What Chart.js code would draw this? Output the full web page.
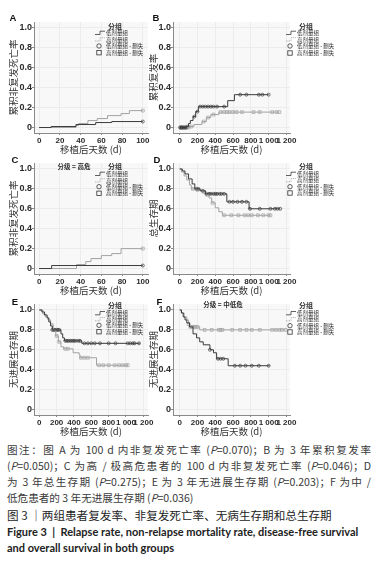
<!DOCTYPE html>
<html>
<head>
<meta charset="utf-8">
<script src="https://cdn.jsdelivr.net/npm/chart.js@4.4.1/dist/chart.umd.min.js"></script>
<style>
body { margin: 0; background: #fff; width: 384px; height: 561px; position: relative; overflow: hidden; font-family: "Noto Sans CJK SC", sans-serif; }
canvas { position: absolute; }
#cap { position: absolute; left: 7px; top: 442px; width: 364px; color: #3a3a3a; font-size: 10.6px; }
.l { height: 16px; line-height: 16px; text-align: justify; text-align-last: justify; }
.n { height: 16px; line-height: 16px; }
.t { height: 17px; line-height: 17px; color: #222; margin-top: 1px; font-size: 11.6px; }
.e { font-family: Lato, sans-serif; font-weight: bold; font-size: 11px; color: #222; height: 16px; line-height: 16px; }
</style>
</head>
<body>
<canvas id="cA" width="165" height="146" style="left:0;top:10px"></canvas>
<canvas id="cB" width="245" height="146" style="left:139px;top:10px"></canvas>
<canvas id="cC" width="165" height="146" style="left:0;top:151px"></canvas>
<canvas id="cD" width="245" height="146" style="left:139px;top:151px"></canvas>
<canvas id="cE" width="165" height="146" style="left:0;top:292px"></canvas>
<canvas id="cF" width="245" height="146" style="left:139px;top:292px"></canvas>
<div id="cap">
<div class="l">图注：图 A 为 100 d 内非复发死亡率 (<i>P</i>=0.070)；B 为 3 年累积复发率</div>
<div class="l">(<i>P</i>=0.050)；C 为高 / 极高危患者的 100 d 内非复发死亡率 (<i>P</i>=0.046)；D</div>
<div class="l">为 3 年总生存期 (<i>P</i>=0.275)；E 为 3 年无进展生存期 (<i>P</i>=0.203)；F 为中 /</div>
<div class="n">低危患者的 3 年无进展生存期 (<i>P</i>=0.036)</div>
<div class="t">图 3 ｜两组患者复发率、非复发死亡率、无病生存期和总生存期</div>
<div class="e">Figure 3 &nbsp;|&nbsp; Relapse rate, non-relapse mortality rate, disease-free survival</div>
<div class="e">and overall survival in both groups</div>
</div>
<script>
// step points [day, value]; censor times in days
// A: 100 d non-relapse mortality
var aLow = [[0, 0], [11.5, 0.01], [35.5, 0.03], [54.5, 0.05], [70, 0.06], [100, 0.06]];
var aHigh = [[0, 0], [35.5, 0.02], [38, 0.04], [47, 0.07], [56, 0.09], [66, 0.12], [79, 0.14], [87, 0.17], [100, 0.17]];
var aLowCens = [100];
var aHighCens = [100];

// B: 3 y cumulative relapse
var bLow = [[0, 0], [80, 0.01], [100, 0.04], [120, 0.07], [150, 0.11], [180, 0.16], [210, 0.21], [540, 0.27], [615, 0.33], [1000, 0.33]];
var bHigh = [[0, 0], [110, 0.01], [160, 0.03], [250, 0.06], [300, 0.1], [350, 0.13], [440, 0.155], [1120, 0.155]];
var bLowCens = [5, 15, 25, 40, 55, 70, 90, 165, 200, 230, 260, 290, 320, 350, 380, 420, 500, 680, 750, 890, 930, 1000];
var bHighCens = [10, 30, 45, 60, 75, 100, 130, 270, 320, 380, 460, 500, 530, 560, 600, 640, 700, 830, 900, 1040, 1090, 1120];

// C: 100 d non-relapse mortality, high risk
var cLow = [[0, 0], [12, 0.03], [100, 0.03]];
var cHigh = [[0, 0], [36, 0.04], [45, 0.07], [50, 0.1], [60, 0.13], [70, 0.15], [79, 0.2], [100, 0.2]];
var cLowCens = [100];
var cHighCens = [100];

// D: 3 y overall survival
var dLow = [[0, 1], [30, 0.98], [60, 0.95], [100, 0.9], [140, 0.85], [170, 0.8], [230, 0.78], [290, 0.75], [530, 0.67], [780, 0.6], [1130, 0.6]];
var dHigh = [[0, 1], [20, 0.97], [50, 0.93], [80, 0.89], [110, 0.84], [130, 0.8], [180, 0.79], [250, 0.77], [300, 0.74], [330, 0.71], [360, 0.66], [400, 0.61], [440, 0.57], [480, 0.535], [1020, 0.535]];
var dLowCens = [190, 210, 260, 300, 330, 350, 380, 400, 420, 450, 470, 500, 560, 600, 650, 700, 750, 790, 900, 1020, 1070, 1100, 1130];
var dHighCens = [150, 200, 270, 310, 370, 500, 580, 660, 730, 770, 810, 880, 940, 1000, 1020];

// E: 3 y progression-free survival
var eLow = [[0, 1], [30, 0.98], [60, 0.95], [90, 0.92], [110, 0.88], [130, 0.84], [150, 0.8], [250, 0.76], [270, 0.72], [290, 0.69], [490, 0.665], [1160, 0.665]];
var eHigh = [[0, 1], [40, 0.96], [70, 0.93], [100, 0.9], [130, 0.86], [160, 0.8], [190, 0.74], [220, 0.68], [250, 0.63], [280, 0.61], [390, 0.57], [460, 0.55], [470, 0.52], [660, 0.445], [1020, 0.445]];
var eLowCens = [150, 165, 180, 200, 215, 230, 300, 320, 340, 360, 380, 400, 420, 450, 470, 520, 560, 600, 640, 700, 800, 880, 1020, 1050, 1080, 1100, 1150];
var eHighCens = [200, 230, 300, 330, 480, 520, 560, 690, 740, 800, 870, 920, 960, 1000, 1020];

// F: 3 y progression-free survival, intermediate/low risk
var fLow = [[0, 1], [20, 0.97], [40, 0.93], [60, 0.9], [80, 0.87], [110, 0.83], [150, 0.76], [190, 0.72], [225, 0.68], [265, 0.65], [340, 0.6], [380, 0.57], [415, 0.51], [545, 0.44], [1010, 0.44]];
var fHigh = [[0, 1], [20, 0.97], [50, 0.93], [80, 0.9], [100, 0.86], [115, 0.83], [225, 0.8], [1190, 0.8]];
var fLowCens = [340, 430, 460, 490, 620, 680, 740, 810, 890, 1000];
var fHighCens = [100, 120, 140, 160, 180, 200, 280, 360, 440, 460, 480, 590, 680, 750, 810, 900, 1040, 1080, 1120, 1150, 1190];

var yTicks = ['0', '0.2', '0.4', '0.6', '0.8', '1.0'];
var legendLabels = ['低剂量组', '高剂量组', '低剂量组 - 删失', '高剂量组 - 删失'];

var DARK = '#3a3a3a', LIGHT = '#a2a2a2', BG = '#f8f8f8', GRID = '#ececec', AXIS = '#8a8a8a', TXT = '#2b2b2b';
var CJK = '"Noto Sans CJK SC"';

function toXY(pts) {
    return pts.map(function (p) { return {x: p[0], y: p[1]}; });
}
// value of the step curve at day t
function valueAt(pts, t) {
    var v = pts[0][1];
    pts.forEach(function (p) { if (p[0] <= t) v = p[1]; });
    return v;
}
function cens(pts, times) {
    return times.map(function (t) { return {x: t, y: valueAt(pts, t)}; });
}

function stepIcon(ctx, x, y, color, dash) {
    ctx.strokeStyle = color;
    ctx.lineWidth = 0.8;
    ctx.setLineDash(dash ? [1.5, 1] : []);
    ctx.beginPath();
    ctx.moveTo(x, y + 1.5);
    ctx.lineTo(x + 5, y + 1.5);
    ctx.lineTo(x + 5, y - 1.8);
    ctx.lineTo(x + 10, y - 1.8);
    ctx.stroke();
    ctx.setLineDash([]);
}

function decor(cfg) {
    return {
        id: 'decor',
        beforeDraw: function (chart) {
            var a = chart.chartArea, ctx = chart.ctx;
            ctx.save();
            ctx.fillStyle = BG;
            ctx.fillRect(a.left, a.top, a.right - a.left, a.bottom - a.top);
            ctx.restore();
        },
        afterDraw: function (chart) {
            var ctx = chart.ctx, ox = cfg.left, oy = cfg.top;
            ctx.save();
            ctx.textBaseline = 'middle';
            // panel letter
            ctx.fillStyle = '#111';
            ctx.font = 'bold 9.5px "Liberation Sans"';
            ctx.textAlign = 'center';
            ctx.fillText(cfg.letter, cfg.letterAt[0] - ox, cfg.letterAt[1] - oy);
            // subtitle
            if (cfg.sub) {
                ctx.fillStyle = TXT;
                ctx.font = 'bold 6.5px ' + CJK;
                ctx.fillText(cfg.sub, cfg.subAt[0] - ox, cfg.subAt[1] - oy);
            }
            // legend
            var sx = cfg.leg[0] - ox;
            ctx.fillStyle = TXT;
            ctx.font = 'bold 7px ' + CJK;
            ctx.fillText('分组', sx + 20, cfg.leg[1] - oy);
            ctx.textAlign = 'left';
            ctx.font = '5.5px ' + CJK;
            var rows = cfg.leg[2];
            stepIcon(ctx, sx, rows[0] - oy, DARK, false);
            stepIcon(ctx, sx, rows[1] - oy, LIGHT, true);
            ctx.strokeStyle = '#333';
            ctx.lineWidth = 0.8;
            ctx.beginPath();
            ctx.arc(sx + 4, rows[2] - oy, 2.2, 0, Math.PI * 2);
            ctx.stroke();
            ctx.strokeRect(sx + 1.8, rows[3] - oy - 2.2, 4.4, 4.4);
            for (var i = 0; i < 4; i++) {
                ctx.fillText(legendLabels[i], sx + 11, rows[i] - oy);
            }
            ctx.restore();
        }
    };
}

function panel(id, cfg) {
    var tickFont = {family: 'Liberation Sans', size: 8, weight: 'bold'};
    new Chart(document.getElementById(id), {
        type: 'scatter',
        data: {
            datasets: [
                {data: toXY(cfg.low), showLine: true, stepped: true, borderColor: DARK, borderWidth: 1, pointRadius: 0},
                {data: toXY(cfg.high), showLine: true, stepped: true, borderColor: LIGHT, borderWidth: 1, pointRadius: 0},
                {data: cens(cfg.low, cfg.lowCens), pointStyle: 'circle', pointRadius: 1.5, borderColor: DARK, borderWidth: 0.7, backgroundColor: 'rgba(0,0,0,0)'},
                {data: cens(cfg.high, cfg.highCens), pointStyle: 'rect', pointRadius: 2, borderColor: LIGHT, borderWidth: 0.7, backgroundColor: 'rgba(0,0,0,0)'}
            ]
        },
        options: {
            responsive: false,
            animation: false,
            events: [],
            layout: {padding: {top: 12, right: cfg.padR, bottom: 0, left: 0}},
            plugins: {legend: {display: false}, tooltip: {enabled: false}},
            scales: {
                x: {
                    type: 'linear',
                    min: cfg.xMin,
                    max: cfg.xMax,
                    afterFit: function (s) { s.height = 23; },
                    border: {color: AXIS, width: 1},
                    grid: {color: GRID, tickColor: AXIS, tickLength: 2},
                    ticks: {
                        stepSize: cfg.xStep, includeBounds: false, autoSkip: false, maxRotation: 0,
                        padding: 1, color: TXT, font: tickFont,
                        callback: function (v) { return v >= 1000 ? Math.floor(v / 1000) + ' ' + String(v % 1000).padStart(3, '0') : String(v); }
                    },
                    title: {display: true, text: '移植后天数 (d)', color: '#333', font: {family: 'Noto Sans CJK SC', size: 9.5}, padding: {top: 0, bottom: 0.5}}
                },
                y: {
                    min: -0.055,
                    max: 1.06,
                    afterFit: function (s) { s.width = 34; },
                    border: {color: AXIS, width: 1},
                    grid: {color: GRID, tickColor: AXIS, tickLength: 2},
                    ticks: {
                        stepSize: 0.2, includeBounds: false, padding: 0, color: TXT,
                        font: {family: 'Liberation Sans', size: 9, weight: 'bold'},
                        callback: function (v) { return yTicks[Math.round(v * 5)]; }
                    },
                    title: {display: true, text: cfg.yTitle, color: '#333', font: {family: 'Noto Sans CJK SC', size: 9.5}, padding: {top: cfg.yPad, bottom: 0}}
                }
            }
        },
        plugins: [decor(cfg)]
    });
}

var leftCol = {left: 0, padR: 17, yPad: 7.5};
var rightCol = {left: 139, padR: 94, yPad: 9};
var d100 = {xMin: -5, xMax: 105, xStep: 20};
var d1200 = {xMin: -75, xMax: 1240, xStep: 200};

panel('cA', Object.assign({}, leftCol, d100, {
    top: 10, low: aLow, high: aHigh, lowCens: aLowCens, highCens: aHighCens,
    yTitle: '累积非复发死亡率', letter: 'A', letterAt: [13, 18.5],
    leg: [95, 26, [33, 39.5, 46, 52.7]]
}));
panel('cB', Object.assign({}, rightCol, d1200, {
    top: 10, low: bLow, high: bHigh, lowCens: bLowCens, highCens: bHighCens,
    yTitle: '累积复发率', letter: 'B', letterAt: [156, 18.5],
    leg: [286, 26, [33, 39.5, 46, 53]]
}));
panel('cC', Object.assign({}, leftCol, d100, {
    top: 151, low: cLow, high: cHigh, lowCens: cLowCens, highCens: cHighCens,
    yTitle: '累积非复发死亡率', letter: 'C', letterAt: [15, 160],
    sub: '分级 = 高危', subAt: [74, 167],
    leg: [95, 166.7, [174, 180.5, 186.7, 193.3]]
}));
panel('cD', Object.assign({}, rightCol, d1200, {
    top: 151, low: dLow, high: dHigh, lowCens: dLowCens, highCens: dHighCens,
    yTitle: '总生存期', letter: 'D', letterAt: [157, 160],
    leg: [286, 166, [174, 180.3, 186.7, 193]]
}));
panel('cE', Object.assign({}, leftCol, {xMin: -61, xMax: 1254, xStep: 200}, {
    top: 292, low: eLow, high: eHigh, lowCens: eLowCens, highCens: eHighCens,
    yTitle: '无进展生存期', letter: 'E', letterAt: [15, 302.7],
    leg: [95, 305, [313.3, 319.3, 325.3, 331.7]]
}));
panel('cF', Object.assign({}, rightCol, d1200, {
    top: 292, low: fLow, high: fHigh, lowCens: fLowCens, highCens: fHighCens,
    yTitle: '无进展生存期', letter: 'F', letterAt: [159.5, 302.7],
    sub: '分级 = 中低危', subAt: [223, 305],
    leg: [286, 305.7, [313.3, 319.3, 325.7, 332]]
}));
</script>
</body>
</html>
